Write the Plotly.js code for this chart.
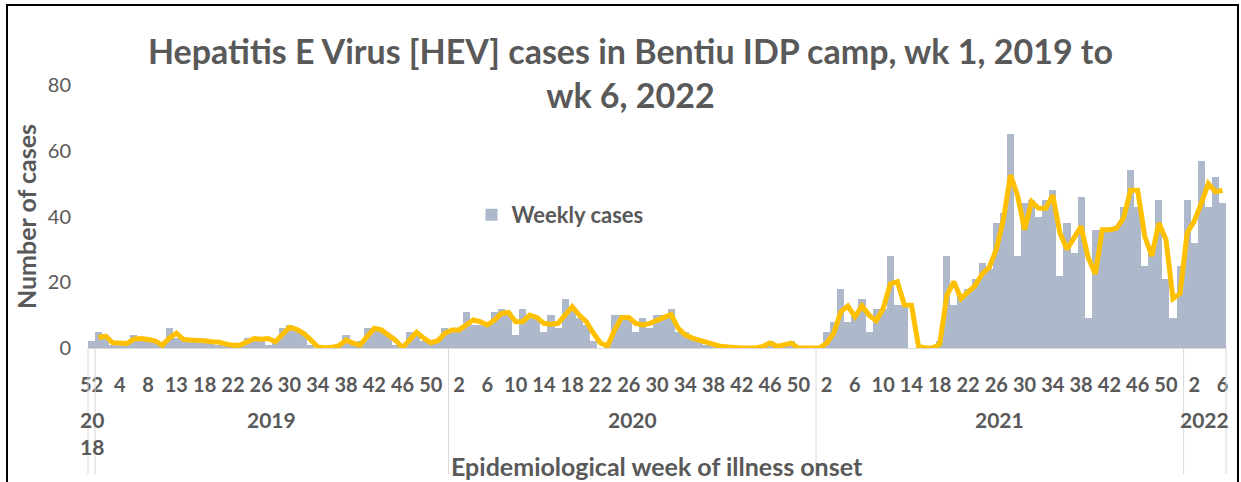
<!DOCTYPE html>
<html><head><meta charset="utf-8">
<script src="https://cdn.plot.ly/plotly-3.0.1.min.js"></script>
<style>
html,body{margin:0;padding:0;background:#fff;}
#wrap{position:relative;width:1241px;height:482px;overflow:hidden;}
#chart{width:1241px;height:482px;}
#frame{position:absolute;left:6px;top:4px;width:1229px;height:540px;border:2px solid #000;border-bottom:none;pointer-events:none;}
</style></head><body>
<div id="wrap"><div id="chart"></div><div id="frame"></div></div>
<script>
// ---- categories ----
const years = ['2018','2019','2020','2021','2022'];
const weeks2018 = [52];
const weeks2019 = [1,2,3,4,5,6,7,8,9,10,11,13,14,15,16,18,19,20,21,22,23,24,25,26,27,28,29,30,31,32,33,34,35,36,37,38,39,40,41,42,43,44,45,46,47,48,49,50,51,52];
const weeks2020 = [1,2,3,4,5,6,7,8,9,10,11,12,13,14,15,16,17,18,19,20,21,22,23,24,25,26,27,28,29,30,31,32,33,34,35,36,37,38,39,40,41,42,43,44,45,46,47,48,49,50,51,52];
const weeks2021 = [1,2,3,4,5,6,7,8,9,10,11,12,13,14,15,16,17,18,19,20,21,22,23,24,25,26,27,28,29,30,31,32,33,34,35,36,37,38,39,40,41,42,43,44,45,46,47,48,49,50,51,52];
const weeks2022 = [1,2,3,4,5,6];

// ---- weekly cases (bars) ----
const cases2018 = [2];
const cases2019 = [5,4,1,2,2,4,3,3,2,1, 6,3,3,3,3,2,2,1,1,1, 1,3,3,3,1,2,6,7,6,5, 1,0,0,0,1,4,1,2,6,6, 5,4,1,0,5,5,2,2,2,6];
const cases2020 = [5,6,11,7,7,7,11,12,11,4, 12,10,9,5,10,6,15,12,9,7, 2,0,1,10,10,9,5,9,6,10, 10,12,5,5,3,2,1,1,0,0, 0,0,0,0,1,2,0,1,2,0, 0,0];
const cases2021 = [0,5,8,18,8,10,15,5,12,12, 28,13,13,0,0,0,0,2,28,13, 16,18,21,26,24,38,41,65,28,44, 45,40,45,48,22,38,29,46,9,36, 36,36,37,43,54,43,25,31,45,21, 9,25];
const cases2022 = [45,32,57,43,52,44];

// ---- trend line (2-week moving average) ----
const trend2018 = [null];
const trend2019 = [3.2,3.6,1.6,1.4,1.4,2.7,2.9,2.6,2.2,0.8, 3,4.5,2.6,2.4,2.4,2.2,1.9,1.8,1.2,0.8, 0.8,2,2.9,2.7,2.9,1.9,4,6.3,5.7,4.5, 2.5,0.3,0.1,0.2,0.7,2.4,1.5,0.9,3.5,6, 5.5,4,2.4,0.1,2.5,4.8,3,1.6,2.2,4.5];
const trend2020 = [5.5,5.5,7,8.5,8,7,8.5,10.5,10.8,8, 8,10,9.3,7.5,7.2,7.5,10,12.6,10,8, 4.5,1.5,0.6,5.5,9.3,9.3,7.5,7,7.5,8.5, 9.5,10.2,6,4,3,2.4,1.8,1,0.5,0.3, 0,0,0,0,0.5,1.5,0.5,1,1.5,0, 0,0];
const trend2021 = [0,1.5,4.5,11,12.8,9.5,12.8,10,8.3,12, 19.5,20.2,13.1,13,0.5,0,0,1.2,16,20.2, 15,17,19,22.5,24.5,30,39,52.6,46.5,36, 44.5,42.5,42.5,46.5,35,30,33.3,37,27.5,22.5, 36,36,36.4,39.5,48,48,34,28,38,33, 15,16.6];
const trend2022 = [35,38.5,44,50,47.5,48];

const weekGroups = [weeks2018, weeks2019, weeks2020, weeks2021, weeks2022];
const caseGroups = [cases2018, cases2019, cases2020, cases2021, cases2022];
const trendGroups = [trend2018, trend2019, trend2020, trend2021, trend2022];

const weeks = [].concat(...weekGroups);
const cases = [].concat(...caseGroups);
const trend = [].concat(...trendGroups);
const idx = weeks.map((_, i) => i);
const N = weeks.length;

const TXT = '#595959';
const FONT = 'Lato, "Open Sans", sans-serif';

const tickvals = idx.filter(i => i % 4 === 0);
const ticktext = tickvals.map(i => String(weeks[i]));

// group boundaries
const annotations = [];
const shapes = [];
let start = 0;
const bounds = [-0.5];
weekGroups.forEach((g, k) => {
  const end = start + g.length - 1;
  bounds.push(end + 0.5);
  const y = years[k];
  annotations.push({
    x: (start + end) / 2, xref: 'x', y: 0, yref: 'paper', yanchor: 'top', yshift: -57,
    text: g.length === 1 ? y.slice(0, 2) + '<br>' + y.slice(2) : y,
    showarrow: false, font: {family: FONT, size: 21, color: TXT, weight: 700}
  });
  start = end + 1;
});
bounds.forEach(b => {
  const xp = (b + 0.5) / N;
  shapes.push({type: 'line', xref: 'paper', yref: 'paper', x0: xp, x1: xp, y0: 0, y1: -0.48,
    line: {color: '#d9d9d9', width: 1}});
});
annotations.push({
  x: 0.5, xref: 'paper', y: 0, yref: 'paper', yanchor: 'middle', yshift: -118,
  text: 'Epidemiological week of illness onset', showarrow: false,
  font: {family: FONT, size: 25, color: TXT, weight: 700}
});

const traces = [
  {type: 'bar', x: idx, y: cases, name: 'Weekly cases', marker: {color: '#adb9ca'}, hoverinfo: 'y'},
  {type: 'scatter', mode: 'lines', x: idx, y: trend, name: '2 per. Mov. Avg.', showlegend: false,
   line: {color: '#ffc000', width: 5}, cliponaxis: false, connectgaps: false, hoverinfo: 'skip'}
];

const layout = {
  width: 1241, height: 482,
  margin: {l: 88, r: 15, t: 85, b: 134},
  paper_bgcolor: '#fff', plot_bgcolor: '#fff',
  bargap: 0,
  title: {
    text: 'Hepatitis E Virus [HEV] cases in Bentiu IDP camp, wk 1, 2019 to<br>wk 6, 2022',
    x: 0.508, xanchor: 'center', xref: 'container',
    y: 0.867, yanchor: 'top', yref: 'container',
    font: {family: FONT, size: 34, color: TXT, weight: 700}
  },
  xaxis: {
    range: [-0.5, N - 0.5], tickvals: tickvals, ticktext: ticktext, tickangle: 0,
    ticks: '', showgrid: false, zeroline: false, showline: true, linecolor: '#d9d9d9', linewidth: 1,
    tickfont: {family: FONT, size: 20, color: TXT, weight: 700}, ticklabelstandoff: 19
  },
  yaxis: {
    range: [0, 80], tickvals: [0, 20, 40, 60, 80], ticks: '', showgrid: false, zeroline: false, showline: false,
    tickfont: {family: FONT, size: 20, color: TXT}, ticklabelstandoff: 16,
    title: {text: 'Number of cases', standoff: 4, font: {family: FONT, size: 25, color: TXT, weight: 700}}
  },
  legend: {x: 0.337, y: 0.506, xanchor: 'left', yanchor: 'middle', bgcolor: 'rgba(0,0,0,0)',
    font: {family: FONT, size: 22, color: TXT, weight: 700}},
  showlegend: true,
  annotations: annotations,
  shapes: shapes
};

Plotly.newPlot('chart', traces, layout, {displayModeBar: false, staticPlot: true});
</script>
</body></html>
